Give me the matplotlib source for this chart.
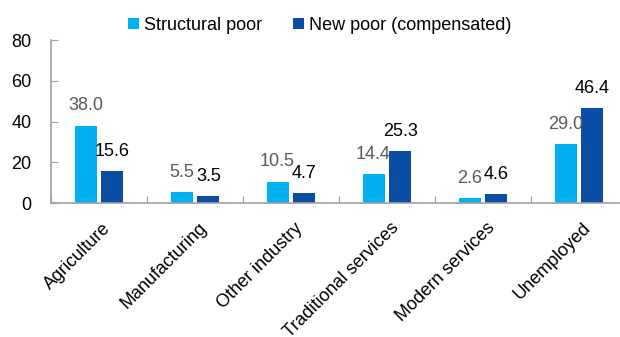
import matplotlib.pyplot as plt
import matplotlib.transforms as mtransforms
import numpy as np

plt.rcParams["font.family"] = ["Liberation Sans", "DejaVu Sans"]

categories = [
    "Agriculture",
    "Manufacturing",
    "Other industry",
    "Traditional services",
    "Modern services",
    "Unemployed",
]
structural_poor = [38.0, 5.5, 10.5, 14.4, 2.6, 29.0]
new_poor = [15.6, 3.5, 4.7, 25.3, 4.6, 46.4]

LIGHT = "#00B0F0"
DARK = "#0B4DA2"
AXIS_GREY = "#A0A0A0"


def main():
    fig = plt.figure(figsize=(6.2, 3.37), dpi=100)
    ax = fig.add_axes([51 / 620, 1 - 203 / 337, 576 / 620, 163 / 337])

    x = np.arange(len(categories))
    width = 0.23
    b1 = ax.bar(x - 0.14, structural_poor, width, color=LIGHT, label="Structural poor")
    b2 = ax.bar(x + 0.14, new_poor, width, color=DARK, label="New poor (compensated)")

    for rect, val in zip(b1, structural_poor):
        ax.annotate(f"{val:.1f}", (rect.get_x() + rect.get_width() / 2, val),
                    xytext=(0, 8), textcoords="offset points",
                    ha="center", va="bottom", fontsize=13, color="#595959")
    for rect, val in zip(b2, new_poor):
        ax.annotate(f"{val:.1f}", (rect.get_x() + rect.get_width() / 2, val),
                    xytext=(0, 8), textcoords="offset points",
                    ha="center", va="bottom", fontsize=13, color="black")

    ax.set_xlim(-0.5, len(categories) - 0.5)
    ax.set_ylim(0, 80)
    ax.set_yticks(range(0, 81, 20))
    ax.tick_params(axis="y", direction="in", length=5, color=AXIS_GREY,
                   labelsize=13, pad=14)

    # category ticks sit between the groups, labels sit under the groups
    ax.set_xticks(np.arange(len(categories) + 1) - 0.5)
    ax.set_xticklabels([])
    ax.tick_params(axis="x", direction="in", length=5, color=AXIS_GREY)
    ax.set_xticks(x, minor=True)
    ax.set_xticklabels(categories, minor=True, rotation=45, ha="right",
                       rotation_mode="anchor", fontsize=13)
    ax.tick_params(axis="x", which="minor", length=0, pad=12)
    shift = mtransforms.ScaledTranslation(3 / 100, 0, fig.dpi_scale_trans)
    for lbl in ax.get_xticklabels(minor=True):
        lbl.set_transform(lbl.get_transform() + shift)

    for side in ("top", "right"):
        ax.spines[side].set_visible(False)
    for side in ("left", "bottom"):
        ax.spines[side].set_color(AXIS_GREY)
        ax.spines[side].set_linewidth(1.2)

    fig.legend(loc="upper center", bbox_to_anchor=(0.516, 0.998), ncol=2,
               frameon=False, fontsize=13, handlelength=0.6, handleheight=0.6,
               handletextpad=0.3, columnspacing=1.7)

    fig.savefig("out.png", dpi=100)
    plt.close(fig)


if __name__ == "__main__":
    main()
